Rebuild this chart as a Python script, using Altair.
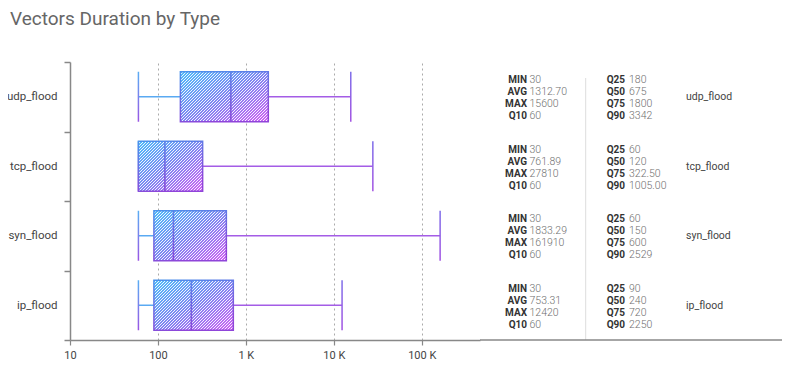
import math
import altair as alt
import pandas as pd

# ---------------- data ----------------
types = ["udp_flood", "tcp_flood", "syn_flood", "ip_flood"]

# box plot geometry as drawn (whisker low = Q10, whisker high = MAX)
whisker_low = [60, 60, 60, 60]
box_q1 = [180, 60, 90, 90]
box_median = [675, 120, 150, 240]
box_q3 = [1800, 322.5, 600, 720]
whisker_high = [15600, 27810, 161910, 12420]

# statistics table (as printed)
stat_min = ["30", "30", "30", "30"]
stat_avg = ["1312.70", "761.89", "1833.29", "753.31"]
stat_max = ["15600", "27810", "161910", "12420"]
stat_q10 = ["60", "60", "60", "60"]
stat_q25 = ["180", "60", "60", "90"]
stat_q50 = ["675", "120", "150", "240"]
stat_q75 = ["1800", "322.50", "600", "720"]
stat_q90 = ["3342", "1005.00", "2529", "2250"]

x_ticks = [10, 100, 1000, 10000, 100000]
col1_names = ["MIN", "AVG", "MAX", "Q10"]
col2_names = ["Q25", "Q50", "Q75", "Q90"]

# ---------------- layout ----------------
W, H = 410, 278
X_MIN, X_MAX = 10, 460000
PX_PER_DEC = W / math.log10(X_MAX / X_MIN)
BOX = 50
FONT = "Roboto"

df = pd.DataFrame({
    "type": types,
    "lo": whisker_low,
    "q1": box_q1,
    "med": box_median,
    "q3": box_q3,
    "hi": whisker_high,
    "c1_lab": ["\n".join(col1_names)] * len(types),
    "c1_val": ["\n".join(v) for v in zip(stat_min, stat_avg, stat_max, stat_q10)],
    "c2_lab": ["\n".join(col2_names)] * len(types),
    "c2_val": ["\n".join(v) for v in zip(stat_q25, stat_q50, stat_q75, stat_q90)],
})

xscale = alt.Scale(type="log", domain=[X_MIN, X_MAX], nice=False)
yscale = alt.Scale(domain=types, paddingInner=0, paddingOuter=0)

x_axis = alt.Axis(
    values=x_ticks,
    labelExpr="datum.value >= 1000 ? format(datum.value / 1000, 'd') + ' K' : format(datum.value, 'd')",
    grid=True, gridDash=[2, 3], gridColor="#aaaaaa", gridWidth=1,
    domainColor="#888888", domainWidth=1.5,
    tickColor="#888888", tickSize=5, tickWidth=1.2,
    labelFont=FONT, labelFontSize=11, labelColor="#444444", labelPadding=4,
    labelFlush=False, labelOverlap=False, title=None,
)
y_axis = alt.Axis(
    domainColor="#888888", domainWidth=1.5,
    tickBand="extent", tickColor="#888888", tickSize=6, tickWidth=1.5,
    labelFont=FONT, labelFontSize=11.5, labelColor="#444444", labelPadding=7,
    grid=False, title=None,
)

y_enc = alt.Y("type:N", sort=types, scale=yscale, title=None, axis=y_axis)


def xq(field):
    return alt.X(f"{field}:Q", scale=xscale, title=None, axis=x_axis)


def lin(stops, x1=0, y1=0, x2=1, y2=0):
    return alt.Gradient(
        gradient="linear",
        stops=[alt.GradientStop(offset=o, color=c) for o, c in stops],
        x1=x1, y1=y1, x2=x2, y2=y2,
    )


def stripe_gradient(w_px, h_px, period=3, white_frac=0.36):
    # 45-degree hatch with an integer pixel period (avoids moire)
    r = h_px / w_px
    n = math.ceil((w_px + h_px) / period)
    length = n * period
    k = length / (w_px * (1 + r * r))
    clear = "rgba(255,255,255,0)"
    white = "rgba(255,255,255,0.9)"
    stops = []
    for i in range(n):
        a = i / n
        b = (i + 1 - white_frac) / n
        c = (i + 1) / n
        stops += [(a, clear), (b, clear), (b, white), (c, white)]
    return lin(stops, 0, 0, k, k * r)


box_fill = lin([(0, "#4fbdf9"), (0.5, "#7f86f1"), (1, "#d162f3")], 0, 0, 1, 1)
box_stroke = lin([(0, "#4a94ec"), (1, "#8f45d9")], 0, 0, 0.4, 1)
cap_low_fill = lin([(0, "#5aaef4"), (1, "#9a55e4")], 0, 0, 0, 1)
cap_high_fill = lin([(0, "#7e6ee9"), (1, "#a252e2")], 0, 0, 0, 1)
med_fill = lin([(0, "#5b82ea"), (1, "#8a47d8")], 0, 0, 0, 1)

base = alt.Chart(df)

whisk_left = base.mark_rule(color="#5aaaf2", strokeWidth=1.5).encode(
    x=xq("lo"), x2="q1:Q", y=y_enc
)
whisk_right = base.mark_rule(color="#a45de6", strokeWidth=1.5).encode(
    x=xq("q3"), x2="hi:Q", y=y_enc
)
cap_low = base.mark_tick(orient="vertical", thickness=1.5, size=BOX, fill=cap_low_fill,
                         opacity=1).encode(x=xq("lo"), y=y_enc)
cap_high = base.mark_tick(orient="vertical", thickness=1.5, size=BOX, fill=cap_high_fill,
                          opacity=1).encode(x=xq("hi"), y=y_enc)
box_base = base.mark_bar(size=BOX, fill=box_fill, opacity=1).encode(
    x=xq("q1"), x2="q3:Q", y=y_enc
)

stripe_layers = []
for t, a, b in zip(types, box_q1, box_q3):
    w_px = PX_PER_DEC * (math.log10(b) - math.log10(a))
    stripe_layers.append(
        base.transform_filter(alt.datum.type == t)
        .mark_bar(size=BOX, fill=stripe_gradient(w_px, BOX), stroke=box_stroke,
                  strokeWidth=1.5, opacity=1)
        .encode(x=xq("q1"), x2="q3:Q", y=y_enc)
    )

median = base.mark_tick(orient="vertical", thickness=1.6, size=BOX, fill=med_fill,
                        opacity=1).encode(x=xq("med"), y=y_enc)

LH = 12
BLOCK_DY = -1.5 * LH + 1.5
lab_style = dict(font=FONT, fontSize=10, fontWeight="bold", color="#333333",
                 lineBreak="\n", lineHeight=LH, baseline="middle", dy=BLOCK_DY)
val_style = dict(font=FONT, fontSize=10.5, fontWeight=300, color="#6f6f6f",
                 lineBreak="\n", lineHeight=LH, baseline="middle", dy=BLOCK_DY)

c1_lab = base.mark_text(align="right", **lab_style).encode(
    x=alt.value(457), y=y_enc, text="c1_lab:N")
c1_val = base.mark_text(align="left", **val_style).encode(
    x=alt.value(459.5), y=y_enc, text="c1_val:N")
c2_lab = base.mark_text(align="right", **lab_style).encode(
    x=alt.value(555), y=y_enc, text="c2_lab:N")
c2_val = base.mark_text(align="left", **val_style).encode(
    x=alt.value(559), y=y_enc, text="c2_val:N")
names = base.mark_text(align="left", baseline="middle", font=FONT, fontSize=10.5,
                       color="#444444", dy=0.5).encode(
    x=alt.value(616), y=y_enc, text="type:N")

deco = alt.Chart(pd.DataFrame({"k": [0]}))
separator = deco.mark_rule(color="#dddddd", strokeWidth=1).encode(
    x=alt.value(515.7), y=alt.value(16), y2=alt.value(H))
bottom_line = deco.mark_rule(color="#888888", strokeWidth=1.5).encode(
    x=alt.value(W), x2=alt.value(712), y=alt.value(H))

chart = alt.layer(
    whisk_left, whisk_right, cap_low, cap_high, box_base, *stripe_layers, median,
    c1_lab, c1_val, c2_lab, c2_val, names, separator, bottom_line,
).properties(
    width=W, height=H,
    title=alt.Title("Vectors Duration by Type", anchor="start", frame="group",
                    font=FONT, fontSize=19, fontWeight="normal", color="#666666",
                    dx=-60, offset=27),
    autosize=alt.AutoSizeParams(type="none"),
    padding={"left": 62, "top": 54, "right": 312, "bottom": 20},
).configure(font=FONT, view=alt.ViewConfig(stroke=None))

chart.save("out.html", embed_options={"renderer": "svg", "actions": False})
